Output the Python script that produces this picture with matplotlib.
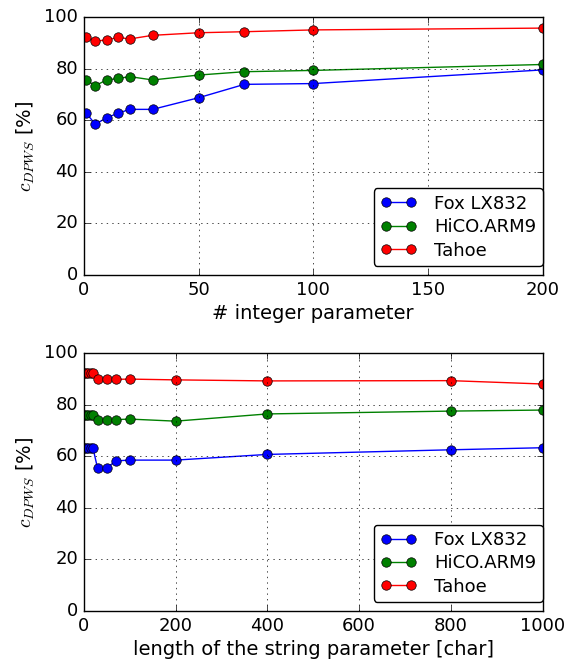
import matplotlib
matplotlib.use("Agg")
import matplotlib.pyplot as plt

plt.style.use("classic")

# top: number of integer parameters
int_x = [1, 5, 10, 15, 20, 30, 50, 70, 100, 200]
int_fox = [62.9, 58.4, 61.0, 62.7, 64.2, 64.2, 68.7, 73.9, 74.2, 79.5]
int_hico = [75.6, 73.4, 75.6, 76.2, 76.9, 75.6, 77.5, 78.8, 79.3, 81.6]
int_tahoe = [92.4, 90.7, 91.1, 92.1, 91.5, 92.9, 93.9, 94.3, 95.0, 95.7]

# bottom: length of string parameter
str_x = [1, 5, 10, 15, 20, 30, 50, 70, 100, 200, 400, 800, 1000]
str_fox = [63.0, 63.0, 63.0, 63.0, 63.2, 55.4, 55.5, 58.2, 58.5, 58.5, 60.7, 62.5, 63.3]
str_hico = [76.0, 76.0, 76.0, 76.0, 76.1, 74.0, 74.0, 74.2, 74.4, 73.6, 76.4, 77.5, 77.9]
str_tahoe = [92.1, 92.1, 92.1, 92.2, 92.4, 89.8, 89.8, 89.8, 89.9, 89.6, 89.2, 89.3, 88.0]

labels = ["Fox LX832", "HiCO.ARM9", "Tahoe"]
colors = ["b", "g", "r"]

fig = plt.figure(figsize=(5.66, 6.62), dpi=100, facecolor="white")
ax1 = fig.add_axes([0.148, 0.5846, 0.811, 0.3897])
ax2 = fig.add_axes([0.148, 0.077, 0.811, 0.3897])

for ax, x, series, xlab, xmax in [
    (ax1, int_x, [int_fox, int_hico, int_tahoe], "# integer parameter", 200),
    (ax2, str_x, [str_fox, str_hico, str_tahoe], "length of the string parameter [char]", 1000),
]:
    for ys, c, lab in zip(series, colors, labels):
        ax.plot(x, ys, "o-", color=c, label=lab, markersize=6.8, linewidth=1.0)
    ax.set_xlim(0, xmax)
    ax.set_ylim(0, 100)
    ax.grid(True)
    ax.set_xlabel(xlab, fontsize=14, labelpad=4)
    ax.set_ylabel(r"$c_{DPWS}$ [%]", fontsize=14)
    ax.tick_params(labelsize=13)
    ax.legend(loc="lower right", bbox_to_anchor=(1.0, 0.035), fontsize=13,
              numpoints=2, fancybox=True, borderaxespad=0.0,
              labelspacing=0.3, handletextpad=1.0, borderpad=0.35)

fig.savefig("out.png", dpi=100, facecolor="white")
